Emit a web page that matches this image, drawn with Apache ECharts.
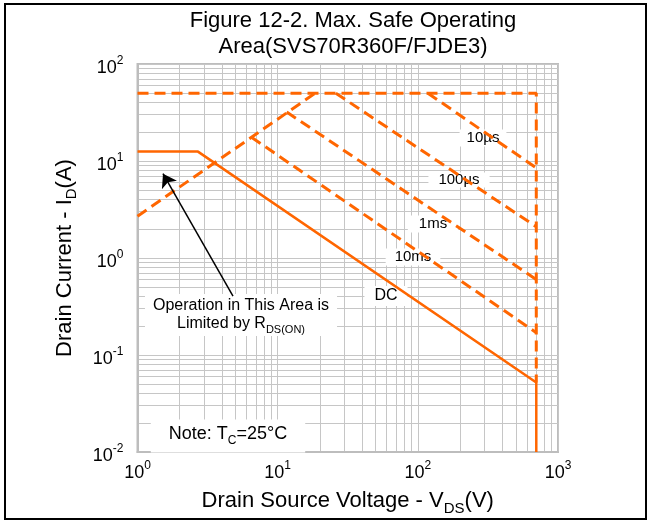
<!DOCTYPE html>
<html>
<head>
<meta charset="utf-8">
<script src="https://cdn.jsdelivr.net/npm/echarts@6/dist/echarts.min.js"></script>
<style>
html, body { margin: 0; padding: 0; background: #fff; }
#c { width: 652px; height: 521px; }
</style>
</head>
<body>
<div id="c"></div>
<script>
const FONT = '"Liberation Sans", Arial, sans-serif';
const ORANGE = '#ff6600';
const GRID = '#c6c6c6';

// Axis ranges (decades)
const xRange = [1, 1000];
const yRange = [0.01, 100];

// SOA boundaries as [V_DS (V), I_D (A)]
const limitPulse   = [[1, 50], [700, 50], [700, 0.052]];   // I_DM and BV_DSS limits
const limitRdsOn   = [[1, 2.7], [18.5, 50]];
const pulse10us    = [[118, 50], [700, 8.5]];
const pulse100us   = [[26, 50], [700, 2.1]];
const pulse1ms     = [[11.6, 32], [700, 0.6]];
const pulse10ms    = [[6.5, 17.6], [700, 0.17]];
const dcCurve      = [[1, 12.5], [2.7, 12.5], [700, 0.052], [700, 0.01]];

// Pointer from the R_DS(ON) note into the limited region
const arrowFrom = [4.8, 0.405];
const arrowTo   = [1.52, 7.4];

// Curve names
const curveNames = ['10µs', '100µs', '1ms', '10ms', 'DC'];

const supRich = {
  b: { fontSize: 18, fontFamily: FONT, color: '#000', verticalAlign: 'top', lineHeight: 18, padding: [4, 0, 0, 0] },
  e: { fontSize: 12, fontFamily: FONT, color: '#000', verticalAlign: 'top', lineHeight: 12 }
};
function powLabel(v) {
  const p = Math.round(Math.log10(v));
  return '{b|10}{e|' + p + '}';
}

const subRich = {
  m: { fontSize: 22, fontFamily: FONT, color: '#000', verticalAlign: 'top', lineHeight: 24 },
  s: { fontSize: 15, fontFamily: FONT, color: '#000', verticalAlign: 'top', lineHeight: 15, padding: [11, 0, 0, 0] }
};

function dashed(name, data) {
  return {
    name: name, type: 'line', data: data, symbol: 'none', z: 3,
    lineStyle: { color: ORANGE, width: 3, type: [11, 6] },
    silent: true, animation: false
  };
}

const chart = echarts.init(document.getElementById('c'), null, { renderer: 'canvas' });

function labelBox(text, x, y, size, pad) {
  return {
    type: 'text', x: x, y: y, z: 1,
    style: {
      text: text, fontSize: size, fontFamily: FONT, fill: '#000',
      align: 'center', verticalAlign: 'middle',
      backgroundColor: '#fff', padding: pad
    }
  };
}

chart.setOption({
  animation: false,
  backgroundColor: '#fff',
  title: {
    text: 'Figure 12-2. Max. Safe Operating\nArea(SVS70R360F/FJDE3)',
    left: 348, top: 3, textAlign: 'center',
    textStyle: { fontFamily: FONT, fontSize: 22, fontWeight: 'normal', color: '#000', lineHeight: 26 }
  },
  grid: {
    left: 137.5, right: 94, top: 64, bottom: 68,
    show: true, borderColor: '#bdbdbd', borderWidth: 2, backgroundColor: 'transparent'
  },
  xAxis: {
    type: 'log', logBase: 10, min: xRange[0], max: xRange[1],
    name: '{m|Drain Source Voltage - V}{s|DS}{m|(V)}',
    nameLocation: 'middle', nameGap: 38,
    nameTextStyle: { rich: subRich },
    axisLine: { show: true, lineStyle: { color: '#bdbdbd', width: 2 } },
    axisTick: { show: false },
    axisLabel: { formatter: powLabel, rich: supRich, margin: 8 },
    splitLine: { show: true, lineStyle: { color: GRID, width: 1 } },
    minorTick: { show: false, splitNumber: 9 },
    minorSplitLine: { show: true, lineStyle: { color: GRID, width: 1 } }
  },
  yAxis: {
    type: 'log', logBase: 10, min: yRange[0], max: yRange[1],
    name: '{m|Drain Current - I}{s|D}{m|(A)}',
    nameLocation: 'middle', nameGap: 60, nameRotate: 90,
    nameTextStyle: { rich: subRich },
    axisLine: { show: true, lineStyle: { color: '#bdbdbd', width: 2 } },
    axisTick: { show: false },
    axisLabel: { formatter: powLabel, rich: supRich, margin: 14 },
    splitLine: { show: true, lineStyle: { color: GRID, width: 1 } },
    minorTick: { show: false, splitNumber: 9 },
    minorSplitLine: { show: true, lineStyle: { color: GRID, width: 1 } }
  },
  graphic: [
    { type: 'rect', z: 10, shape: { x: 5, y: 4, width: 641, height: 515 },
      style: { fill: 'none', stroke: '#000', lineWidth: 2 } },
    labelBox(curveNames[0], 483, 138, 15, [1, 7]),
    labelBox(curveNames[1], 459, 180, 15, [0, 10]),
    labelBox(curveNames[2], 433, 224, 15, [1, 11]),
    labelBox(curveNames[3], 413, 257, 15, [1, 9]),
    labelBox(curveNames[4], 386, 296, 16, [2, 10]),
    {
      type: 'text', x: 241, y: 315, z: 1,
      style: {
        text: 'Operation in This Area is\n{t|Limited by R}{u|DS(ON)}',
        fontSize: 16, fontFamily: FONT, fill: '#000', lineHeight: 20,
        align: 'center', verticalAlign: 'middle',
        backgroundColor: '#fff', padding: [2, 8, 2, 8],
        rich: {
          t: { fontSize: 16, fontFamily: FONT, fill: '#000', verticalAlign: 'top', lineHeight: 18 },
          u: { fontSize: 11, fontFamily: FONT, fill: '#000', verticalAlign: 'top', lineHeight: 11, padding: [8, 0, 0, 0] }
        }
      }
    },
    {
      type: 'text', x: 228, y: 436, z: 1,
      style: {
        text: '{t|Note: T}{u|C}{t|=25°C}',
        fontFamily: FONT, fill: '#000',
        align: 'center', verticalAlign: 'middle',
        backgroundColor: '#fff', padding: [6, 18, 8, 18],
        rich: {
          t: { fontSize: 18, fontFamily: FONT, fill: '#000', verticalAlign: 'top', lineHeight: 19 },
          u: { fontSize: 12, fontFamily: FONT, fill: '#000', verticalAlign: 'top', lineHeight: 12, padding: [9, 0, 0, 0] }
        }
      }
    }
  ],
  series: [
    dashed('limit', limitPulse),
    dashed('rdson', limitRdsOn),
    dashed(curveNames[0], pulse10us),
    dashed(curveNames[1], pulse100us),
    dashed(curveNames[2], pulse1ms),
    dashed(curveNames[3], pulse10ms),
    {
      name: curveNames[4], type: 'line', data: dcCurve, symbol: 'none', z: 3,
      lineStyle: { color: ORANGE, width: 2.5 }, silent: true
    },
    {
      name: 'pointer', type: 'lines', coordinateSystem: 'cartesian2d', z: 4,
      symbol: ['none', 'arrow'], symbolSize: 13, silent: true,
      lineStyle: { color: '#000', width: 1.5, opacity: 1 },
      itemStyle: { color: '#000' },
      data: [{ coords: [arrowFrom, arrowTo] }]
    }
  ]
});
</script>
</body>
</html>
